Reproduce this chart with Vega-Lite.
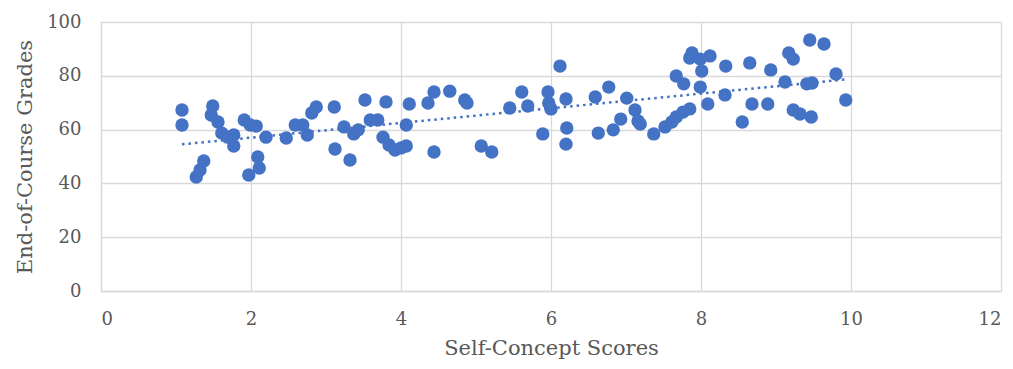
{
  "$schema": "https://vega.github.io/schema/vega-lite/v6.json",
  "autosize": "none",
  "width": 900,
  "height": 269,
  "padding": {"left": 101, "top": 22, "right": 12, "bottom": 78},
  "background": "white",
  "config": {
    "view": {"stroke": null},
    "font": "DejaVu Serif",
    "axis": {
      "labelFont": "DejaVu Serif",
      "titleFont": "DejaVu Serif",
      "labelColor": "#595959",
      "titleColor": "#595959",
      "labelFontSize": 18,
      "titleFontSize": 21,
      "titleFontWeight": "normal",
      "gridColor": "#d9d9d9",
      "gridWidth": 1.3,
      "domainColor": "#d9d9d9",
      "domainWidth": 1.3,
      "ticks": false
    }
  },
  "data": {
    "values": [
      {"x": 1.08, "y": 67.3}, {"x": 1.08, "y": 61.7},
      {"x": 1.27, "y": 42.4}, {"x": 1.32, "y": 45}, {"x": 1.37, "y": 48.3},
      {"x": 1.49, "y": 68.8}, {"x": 1.47, "y": 65.4}, {"x": 1.56, "y": 62.8}, {"x": 1.61, "y": 58.7},
      {"x": 1.69, "y": 57.2}, {"x": 1.77, "y": 58}, {"x": 1.77, "y": 53.9},
      {"x": 1.91, "y": 63.6}, {"x": 1.99, "y": 61.7}, {"x": 2.07, "y": 61.3},
      {"x": 2.09, "y": 49.8}, {"x": 2.11, "y": 45.7}, {"x": 1.97, "y": 43.1},
      {"x": 2.2, "y": 57.2}, {"x": 2.47, "y": 56.9},
      {"x": 2.59, "y": 61.7}, {"x": 2.69, "y": 61.7}, {"x": 2.75, "y": 58},
      {"x": 2.81, "y": 66.2}, {"x": 2.87, "y": 68.4},
      {"x": 3.11, "y": 68.4}, {"x": 3.12, "y": 52.8},
      {"x": 3.24, "y": 61}, {"x": 3.32, "y": 48.7}, {"x": 3.37, "y": 58.4}, {"x": 3.43, "y": 59.9},
      {"x": 3.52, "y": 71}, {"x": 3.59, "y": 63.6}, {"x": 3.69, "y": 63.6},
      {"x": 3.76, "y": 57.2}, {"x": 3.8, "y": 70.3}, {"x": 3.84, "y": 54.3}, {"x": 3.92, "y": 52.4},
      {"x": 4.0, "y": 53.2}, {"x": 4.07, "y": 53.9}, {"x": 4.07, "y": 61.7},
      {"x": 4.11, "y": 69.5},
      {"x": 4.36, "y": 69.9}, {"x": 4.44, "y": 74}, {"x": 4.44, "y": 51.7},
      {"x": 4.65, "y": 74.3}, {"x": 4.85, "y": 71}, {"x": 4.88, "y": 69.9},
      {"x": 5.07, "y": 53.9}, {"x": 5.21, "y": 51.7},
      {"x": 5.45, "y": 68},
      {"x": 5.61, "y": 74}, {"x": 5.69, "y": 68.8},
      {"x": 5.89, "y": 58.4}, {"x": 5.96, "y": 74}, {"x": 5.97, "y": 69.9}, {"x": 6.0, "y": 67.7},
      {"x": 6.12, "y": 83.6},
      {"x": 6.2, "y": 71.4}, {"x": 6.21, "y": 60.6}, {"x": 6.2, "y": 54.6},
      {"x": 6.59, "y": 72.1}, {"x": 6.63, "y": 58.7},
      {"x": 6.77, "y": 75.8}, {"x": 6.83, "y": 59.9},
      {"x": 6.93, "y": 63.9}, {"x": 7.01, "y": 71.7}, {"x": 7.12, "y": 67.3}, {"x": 7.16, "y": 63.2}, {"x": 7.19, "y": 62.1},
      {"x": 7.37, "y": 58.4},
      {"x": 7.52, "y": 61}, {"x": 7.61, "y": 62.8}, {"x": 7.67, "y": 64.7}, {"x": 7.76, "y": 66.5}, {"x": 7.85, "y": 67.7},
      {"x": 7.67, "y": 79.9}, {"x": 7.77, "y": 77},
      {"x": 7.85, "y": 86.6}, {"x": 7.88, "y": 88.5}, {"x": 7.99, "y": 86.2},
      {"x": 7.99, "y": 75.8}, {"x": 8.01, "y": 81.8}, {"x": 8.12, "y": 87.4}, {"x": 8.09, "y": 69.5},
      {"x": 8.32, "y": 72.9}, {"x": 8.33, "y": 83.6},
      {"x": 8.55, "y": 62.8},
      {"x": 8.65, "y": 84.8}, {"x": 8.68, "y": 69.5},
      {"x": 8.89, "y": 69.5}, {"x": 8.93, "y": 82.2},
      {"x": 9.12, "y": 77.7},
      {"x": 9.17, "y": 88.5}, {"x": 9.23, "y": 86.2},
      {"x": 9.23, "y": 67.3}, {"x": 9.32, "y": 65.8}, {"x": 9.47, "y": 64.7},
      {"x": 9.41, "y": 77}, {"x": 9.48, "y": 77.3},
      {"x": 9.45, "y": 93.3}, {"x": 9.64, "y": 91.8},
      {"x": 9.8, "y": 80.7},
      {"x": 9.93, "y": 71}
    ]
  },
  "encoding": {
    "x": {
      "field": "x", "type": "quantitative",
      "scale": {"domain": [0, 12], "nice": false, "zero": false},
      "axis": {"values": [0, 2, 4, 6, 8, 10, 12], "title": "Self-Concept Scores", "labelPadding": 19, "titlePadding": 9}
    },
    "y": {
      "field": "y", "type": "quantitative",
      "scale": {"domain": [0, 100], "nice": false},
      "axis": {"values": [0, 20, 40, 60, 80, 100], "title": "End-of-Course Grades", "labelPadding": 20, "titlePadding": 11}
    }
  },
  "layer": [
    {
      "mark": {"type": "point", "filled": true, "size": 180, "opacity": 1, "color": "#4472C4"}
    },
    {
      "transform": [{"regression": "y", "on": "x"}],
      "mark": {"type": "line", "color": "#4472C4", "strokeWidth": 2.5, "strokeDash": [2.5, 4]}
    }
  ]
}
